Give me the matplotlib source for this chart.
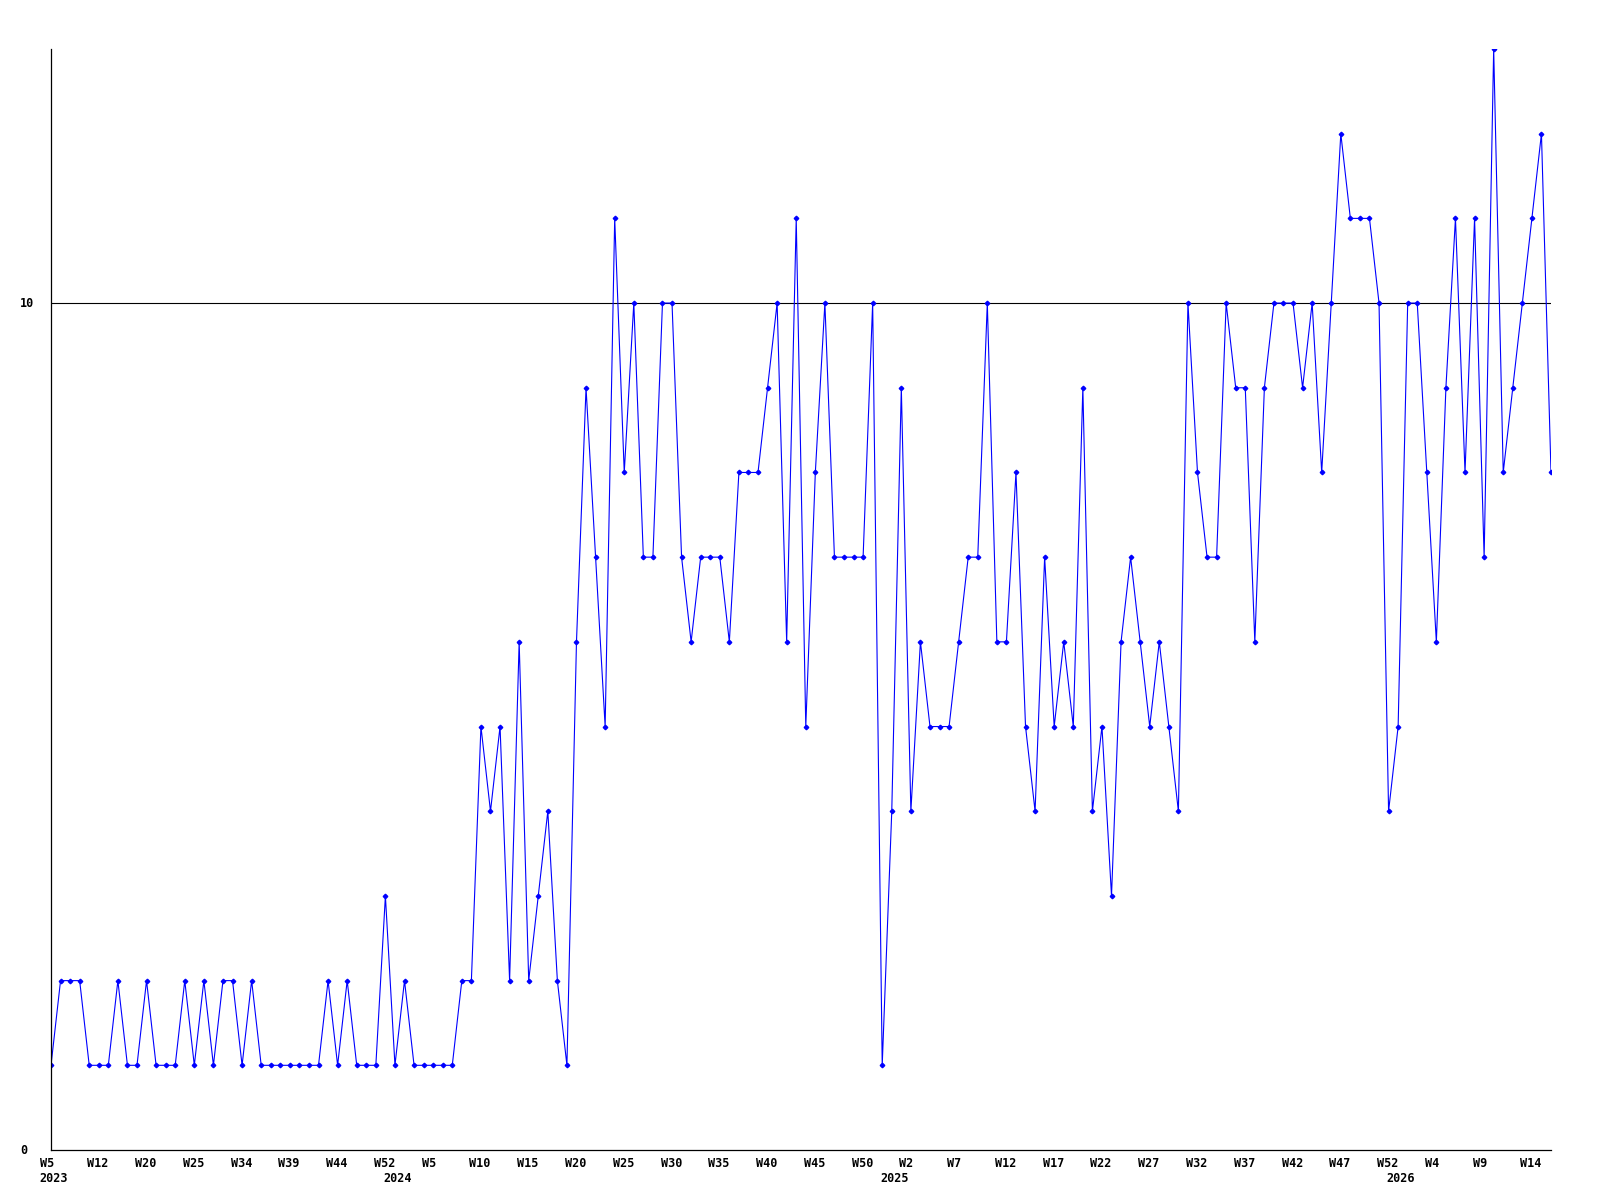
import matplotlib
matplotlib.use('Agg')
import matplotlib.pyplot as plt
import matplotlib.transforms as mtransforms

# weekly counts, one per point (2023 W5 .. 2026 W16)
values = [1, 2, 2, 2, 1, 1, 1, 2, 1, 1,
          2, 1, 1, 1, 2, 1, 2, 1, 2, 2,
          1, 2, 1, 1, 1, 1, 1, 1, 1, 2,
          1, 2, 1, 1, 1, 3, 1, 2, 1, 1,
          1, 1, 1, 2, 2, 5, 4, 5, 2, 6,
          2, 3, 4, 2, 1, 6, 9, 7, 5, 11,
          8, 10, 7, 7, 10, 10, 7, 6, 7, 7,
          7, 6, 8, 8, 8, 9, 10, 6, 11, 5,
          8, 10, 7, 7, 7, 7, 10, 1, 4, 9,
          4, 6, 5, 5, 5, 6, 7, 7, 10, 6,
          6, 8, 5, 4, 7, 5, 6, 5, 9, 4,
          5, 3, 6, 7, 6, 5, 6, 5, 4, 10,
          8, 7, 7, 10, 9, 9, 6, 9, 10, 10,
          10, 9, 10, 8, 10, 12, 11, 11, 11, 10,
          4, 5, 10, 10, 8, 6, 9, 11, 8, 11,
          7, 13, 8, 9, 10, 11, 12, 8]

# week labels, every 5th point
week_labels = ['W5', 'W12', 'W20', 'W25', 'W34', 'W39', 'W44', 'W52',
               'W5', 'W10', 'W15', 'W20', 'W25', 'W30', 'W35', 'W40',
               'W45', 'W50', 'W2', 'W7', 'W12', 'W17', 'W22', 'W27',
               'W32', 'W37', 'W42', 'W47', 'W52', 'W4', 'W9', 'W14']
year_labels = ['2023', '2024', '2025', '2026']
year_pos = [0, 36, 88, 141]

y_ticks = [0, 10]

font = dict(family='DejaVu Sans Mono', fontweight='bold', fontsize=8.5)

fig = plt.figure(figsize=(16, 12), dpi=100)
ax = fig.add_axes([51 / 1600, 50 / 1200, 1500 / 1600, 1101 / 1200])

x = list(range(len(values)))
ax.axhline(10, color='black', linewidth=0.8, zorder=1)
ax.plot(x, values, color='#0000ff', linewidth=0.8, marker='D',
        markersize=2.3, zorder=2)

ax.set_xlim(0, len(values) - 1)
ax.set_ylim(0, 13)
ax.spines['top'].set_visible(False)
ax.spines['right'].set_visible(False)
for s in ('left', 'bottom'):
    ax.spines[s].set_linewidth(0.9)
    ax.spines[s].set_color('black')
ax.set_xticks([])
ax.set_yticks([])

for i, lab in enumerate(week_labels):
    ax.annotate(lab, xy=(i * 5, 0), xycoords=('data', 'axes fraction'),
                xytext=(-11.5, -7), textcoords='offset pixels',
                ha='left', va='top', annotation_clip=False, **font)
for pos, lab in zip(year_pos, year_labels):
    ax.annotate(lab, xy=(pos, 0), xycoords=('data', 'axes fraction'),
                xytext=(-11.5, -22), textcoords='offset pixels',
                ha='left', va='top', annotation_clip=False, **font)

trans = mtransforms.blended_transform_factory(fig.transFigure, ax.transData)
for t in y_ticks:
    ax.text(20 / 1600, t, str(t), transform=trans, ha='left', va='center',
            **font)

fig.savefig('out.png', dpi=100)
